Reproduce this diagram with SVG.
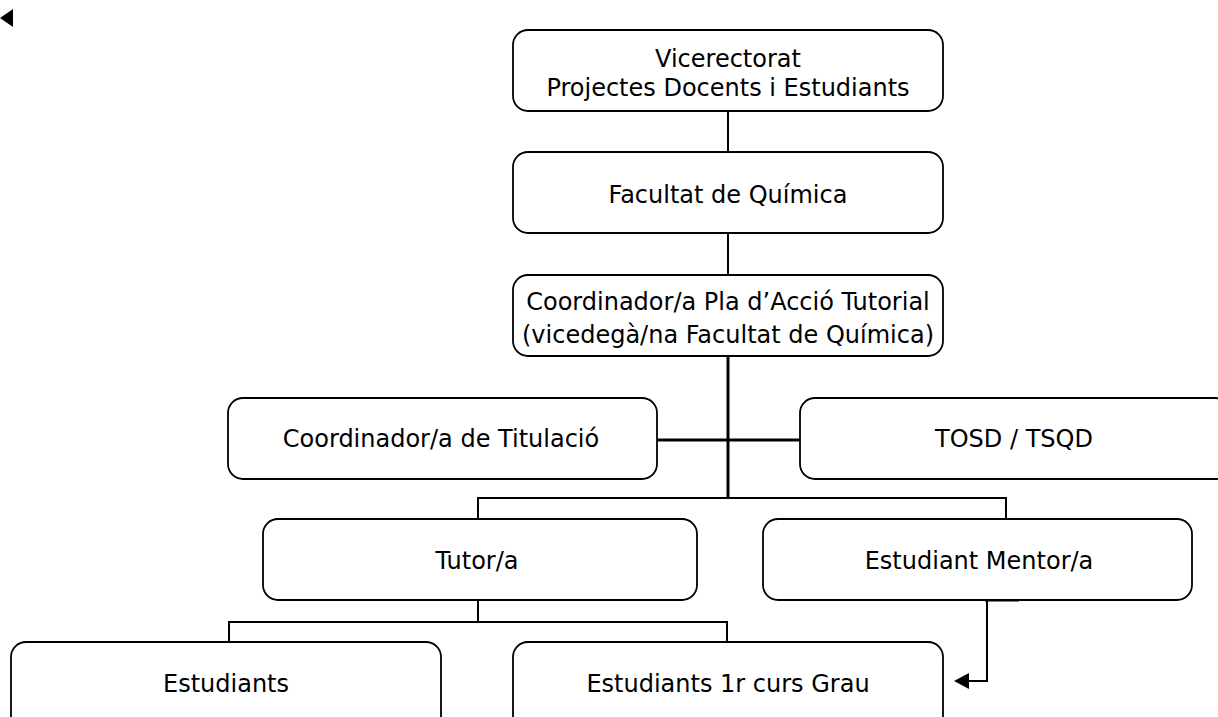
<svg xmlns="http://www.w3.org/2000/svg" width="1218" height="717" viewBox="0 0 1218 717">
<style>
.box{fill:#fff;stroke:#000;stroke-width:1.8}
.t{font-family:"DejaVu Sans","Liberation Sans",sans-serif;font-size:24px;fill:#000;text-anchor:middle}
.c{fill:none;stroke:#000;stroke-width:2}
.ct{fill:none;stroke:#000;stroke-width:3}
</style>
<g id="connectors">
<line class="c" x1="728" y1="111" x2="728" y2="152"/>
<line class="c" x1="728" y1="233" x2="728" y2="275"/>
<line class="ct" x1="728" y1="356" x2="728" y2="498"/>
<line class="ct" x1="657" y1="440" x2="800" y2="440"/>
<polyline class="c" points="478,519 478,498 1006,498 1006,519"/>
<line class="c" x1="478" y1="600" x2="478" y2="622"/>
<polyline class="c" points="229,642 229,622 727,622 727,642"/>
<line class="ct" x1="985" y1="600" x2="1019" y2="600"/>
<polyline class="c" points="987,600 987,681 966,681"/>
<path d="M954,681 L969,673 L969,689 Z" fill="#000"/>
<path d="M0,18 L13,9 L13,27 Z" fill="#000"/>
</g>
<g id="n1"><rect class="box" x="513" y="30" width="430" height="81" rx="15"/><text class="t" x="728" y="67">Vicerectorat</text><text class="t" x="728" y="96">Projectes Docents i Estudiants</text></g>
<g id="n2"><rect class="box" x="513" y="152" width="430" height="81" rx="15"/><text class="t" x="728" y="203">Facultat de Química</text></g>
<g id="n3"><rect class="box" x="513" y="275" width="430" height="81" rx="15"/><text class="t" x="728" y="310">Coordinador/a Pla d’Acció Tutorial</text><text class="t" x="728" y="343">(vicedegà/na Facultat de Química)</text></g>
<g id="n4"><rect class="box" x="228" y="398" width="429" height="81" rx="15"/><text class="t" x="441" y="447">Coordinador/a de Titulació</text></g>
<g id="n5"><rect class="box" x="800" y="398" width="430" height="81" rx="15"/><text class="t" x="1014" y="447">TOSD / TSQD</text></g>
<g id="n6"><rect class="box" x="263" y="519" width="434" height="81" rx="15"/><text class="t" x="477" y="569">Tutor/a</text></g>
<g id="n7"><rect class="box" x="763" y="519" width="429" height="81" rx="15"/><text class="t" x="979" y="569">Estudiant Mentor/a</text></g>
<g id="n8"><rect class="box" x="11" y="642" width="430" height="90" rx="15"/><text class="t" x="226" y="692">Estudiants</text></g>
<g id="n9"><rect class="box" x="513" y="642" width="430" height="90" rx="15"/><text class="t" x="728" y="692">Estudiants 1r curs Grau</text></g>
</svg>
